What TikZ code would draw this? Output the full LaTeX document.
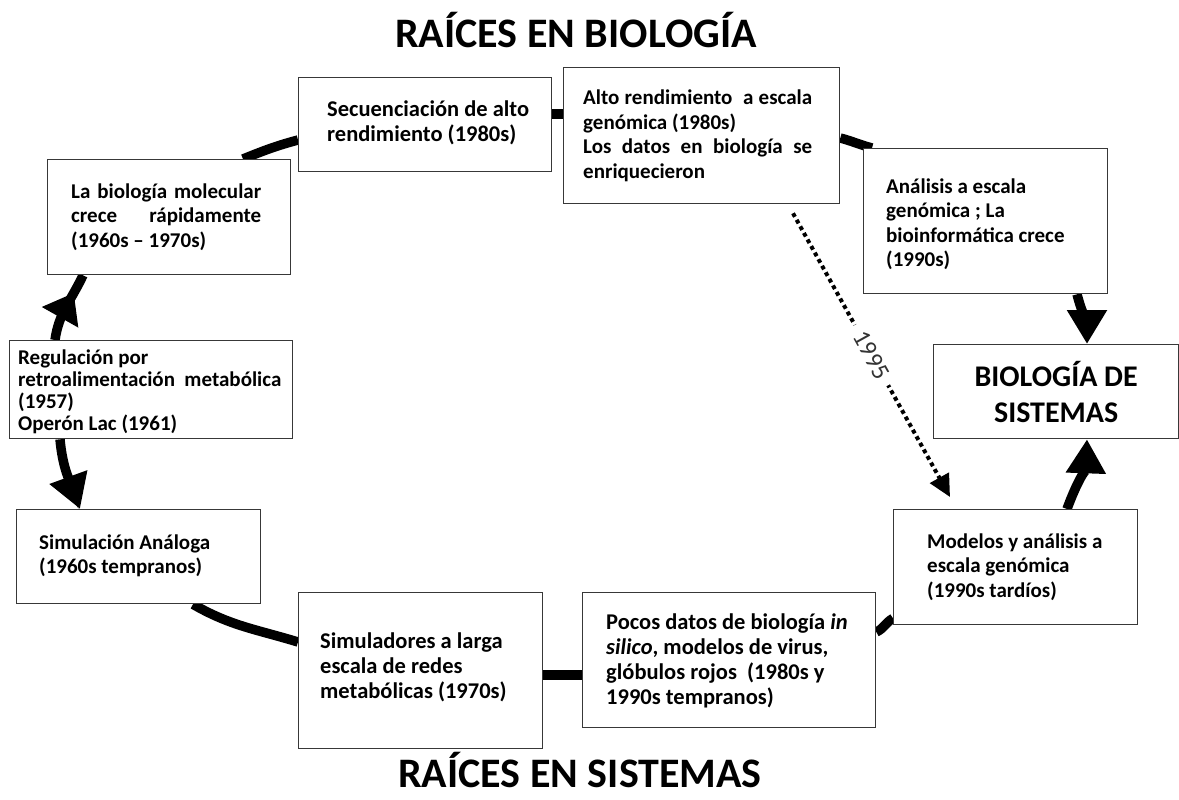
\documentclass[tikz,border=0pt]{standalone}
\usepackage{fontspec}
\setmainfont{Carlito}
\usetikzlibrary{arrows.meta,decorations.markings}
\pgfdeclarelayer{bg}
\pgfsetlayers{bg,main}
\newcommand\bxfont{\fontsize{21}{24.5}\selectfont\bfseries}
\newcommand\bigbxfont{\fontsize{22.5}{25}\selectfont\bfseries}
\newcommand\regfont{\fontsize{21}{22}\selectfont\bfseries}

\begin{document}
\begin{tikzpicture}[x=1pt,y=1pt,
  box/.style={draw=black!78, line width=1.3pt, fill=white, anchor=north west, inner sep=0pt},
  txt/.style={anchor=west, align=left, inner sep=0pt, font=\bxfont},
  title/.style={anchor=base, inner sep=0pt, font=\fontsize{42}{50}\selectfont\bfseries},
  loop/.style={line width=9.5pt, black},
  head/.style={-{Triangle[length=34pt,width=38pt]}},
  arrowmid/.style={postaction={decorate, decoration={markings,
      mark=at position 0.72 with {\arrow{Triangle[length=28pt,width=40pt]}}}}},
]
\begin{pgfonlayer}{bg}
  \fill[white] (0,0) rectangle (1179,-800);
\end{pgfonlayer}
\useasboundingbox (0,0) rectangle (1179,-800);

% titles
\node[title] (rootsBio) at (576,-48) {RAÍCES EN BIOLOGÍA};
\node[title] (rootsSys) at (580,-787) {RAÍCES EN SISTEMAS};

% boxes of the loop
\node[box, minimum width=283pt, minimum height=98pt] (reg) at (9,-340) {};
\node[txt, font=\regfont] (regT) at ([xshift=9pt,yshift=-2pt]reg.west)
  {Regulación por\\retroalimentación\ \ metabólica\\(1957)\\Operón Lac (1961)};

\node[box, minimum width=243pt, minimum height=115pt] (bio) at (47,-159) {};
\node[txt] (bioT) at ([xshift=24pt]bio.west)
  {\makebox[190pt][s]{La biología molecular}\\\makebox[190pt][s]{crece rápidamente}\\(1960s – 1970s)};

\node[box, minimum width=253pt, minimum height=94pt] (sec) at (298,-77) {};
\node[txt, font=\bigbxfont] (secT) at ([xshift=29pt,yshift=2pt]sec.west)
  {Secuenciación de alto\\rendimiento (1980s)};

\node[box, minimum width=276pt, minimum height=136pt] (alto) at (563,-67) {};
\node[txt] (altoT) at ([xshift=20pt]alto.west)
  {\makebox[229pt][s]{Alto rendimiento\ \ a escala}\\genómica (1980s)\\\makebox[229pt][s]{Los datos en biología se}\\enriquecieron};

\node[box, minimum width=244pt, minimum height=145pt] (anal) at (863,-148) {};
\node[txt] (analT) at ([xshift=23pt,yshift=-3pt]anal.west)
  {Análisis a escala\\genómica ; La\\bioinformática crece\\(1990s)};

\node[box, minimum width=245pt, minimum height=94pt, align=center,
      font=\fontsize{30}{36}\selectfont\bfseries] (sys) at (933,-344) {BIOLOGÍA DE\\SISTEMAS};

\node[box, minimum width=244pt, minimum height=94pt] (sim) at (16,-509) {};
\node[txt] (simT) at ([xshift=23pt,yshift=1pt]sim.west)
  {Simulación Análoga\\(1960s tempranos)};

\node[box, minimum width=244pt, minimum height=156pt] (simr) at (298,-592) {};
\node[txt, font=\bigbxfont] (simrT) at ([xshift=22pt,yshift=3pt]simr.west)
  {Simuladores a larga\\escala de redes\\metabólicas (1970s)};

\node[box, minimum width=293pt, minimum height=135pt] (pocos) at (582,-592) {};
\node[txt, font=\bigbxfont] (pocosT) at ([xshift=24pt,yshift=-1pt]pocos.west)
  {Pocos datos de biología \textit{in}\\\textit{silico}, modelos de virus,\\glóbulos rojos\ \ (1980s y\\1990s tempranos)};

\node[box, minimum width=244pt, minimum height=115pt] (mod) at (893,-509) {};
\node[txt] (modT) at ([xshift=34pt]mod.west)
  {Modelos y análisis a\\escala genómica\\(1990s tardíos)};

% the thick loop joining the boxes
\begin{pgfonlayer}{bg}
  \draw[loop, arrowmid] ([xshift=46pt]reg.north west) to[out=82,in=245] ([xshift=36pt]bio.south west);
  \draw[loop, head] ([xshift=51pt]reg.south west) to[out=-85,in=110] ([xshift=64pt]sim.north west);
  \draw[loop] ([xshift=196pt]bio.north west) to[out=22,in=195] ([yshift=-63pt]sec.north west);
  \draw[loop] ([yshift=-37pt]sec.north east) -- ([yshift=-47pt]alto.north west);
  \draw[loop] ([yshift=-71pt]alto.north east) to[out=-15,in=165] ([xshift=9pt]anal.north west);
  \draw[loop, head] ([xshift=214pt]anal.south west) to[out=-75,in=90] ([xshift=154pt]sys.north west);
  \draw[loop, head] ([xshift=174pt]mod.north west) to[out=70,in=-92] ([xshift=154pt]sys.south west);
  \draw[loop] ([yshift=-40pt]pocos.north east) to[out=25,in=210] ([yshift=7pt]mod.south west);
  \draw[loop] ([yshift=-83pt]simr.north east) -- ([yshift=-83pt]pocos.north west);
  \draw[loop] ([xshift=177pt]sim.south west) to[out=-30,in=163] ([yshift=-50pt]simr.north west);
\end{pgfonlayer}

% dotted shortcut of 1995
\draw[line width=4pt, dash pattern=on 4pt off 3.5pt, -{Triangle[length=22pt,width=21pt]}]
  ([xshift=230pt,yshift=-9pt]alto.south west) --
  node[sloped, fill=white, inner xsep=9pt, inner ysep=2pt, text=black!80,
       font=\fontsize{25}{25}\selectfont] (yr) {1995}
  ([xshift=57pt,yshift=12pt]mod.north west);
\end{tikzpicture}
\end{document}
